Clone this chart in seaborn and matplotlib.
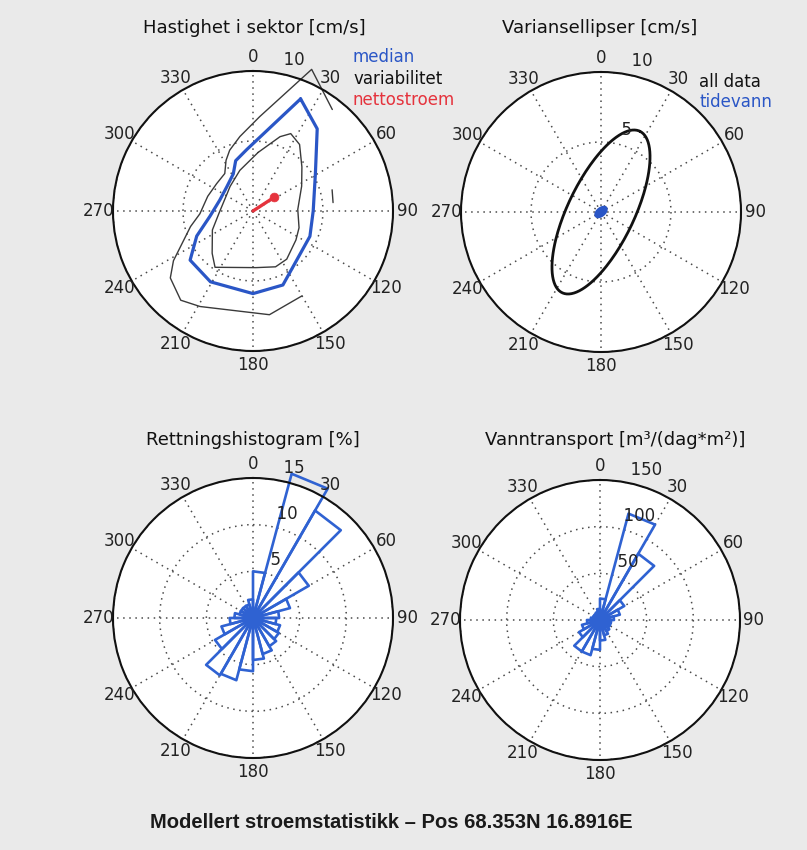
import numpy as np
import pandas as pd
import matplotlib
matplotlib.use("Agg")
import matplotlib.pyplot as plt
import seaborn as sns

# ---------------- data ----------------
angle_labels = [0, 30, 60, 90, 120, 150, 180, 210, 240, 270, 300, 330]

# Hastighet i sektor [cm/s]
median_dir = [23, 38, 59, 90, 114, 158, 180, 211, 232, 246, 263, 288, 313, 332, 341, 354]
median_speed = [8.7, 7.45, 5.2, 4.3, 4.45, 5.7, 5.9, 5.9, 5.7, 4.4, 3.1, 2.5, 2.55, 3.0, 3.8, 4.4]

var_inner_dir = [5, 20, 26, 35, 48, 63, 88, 110, 124, 145, 158, 177, 214, 224, 245, 268, 300, 317, 342]
var_inner_speed = [4.2, 5.65, 6.15, 5.8, 4.7, 3.9, 3.2, 3.5, 3.7, 4.2, 4.3, 4.05, 4.85, 4.2, 3.2, 2.4, 2.2, 2.4, 3.05]

var_outer_dir = [150, 171, 209, 219, 231, 238, 246, 256, 267, 288, 307, 323, 332, 339, 350, 4, 22.5, 38]
var_outer_speed = [7.0, 7.5, 7.8, 8.2, 7.6, 6.7, 5.5, 4.6, 3.8, 3.4, 3.25, 3.35, 4.1, 4.65, 5.4, 6.75, 10.95, 9.2]
var_outer_piece_dir = [75, 84]
var_outer_piece_speed = [5.85, 5.75]

netto_dir = 57
netto_speed = 1.8

# Variansellipser [cm/s]  (semi-major, semi-minor, direction of major axis)
ell_all = (6.4, 2.37, 25.7)
ell_tide = (0.45, 0.25, 50.0)

# Rettningshistogram [%] and Vanntransport, 24 sectors of 15 degrees
sector_start = list(range(0, 360, 15))
hist_pct = [5.0, 16.0, 13.3, 6.9, 4.1, 2.8, 2.5, 3.0, 3.2, 3.5, 4.0, 4.5,
            5.7, 6.9, 7.1, 4.7, 3.5, 2.5, 2.0, 1.5, 1.5, 1.5, 1.5, 2.0]
transport = [23, 118, 82, 30, 22, 15, 12, 12, 12, 14, 17, 22,
             32, 39, 39, 26, 20, 14, 10, 8, 8, 8, 9, 12]

titles = ["Hastighet i sektor [cm/s]", "Variansellipser [cm/s]",
          "Rettningshistogram [%]", "Vanntransport [m\u00b3/(dag*m\u00b2)]"]
suptitle = "Modellert stroemstatistikk \u2013 Pos 68.353N 16.8916E"

# ---------------- style ----------------
sns.set_style("white")
plt.rcParams["font.family"] = ["DejaVu Sans"]

BG = "#eaeaea"
BLUE = "#2a56c6"
HBLUE = "#2f62d2"
RED = "#e5333d"
FS = 12
FT = 13
TXT = "#222222"
W, H = 807, 850

fig = plt.figure(figsize=(W / 100, H / 100), dpi=100)
fig.patch.set_facecolor(BG)


def make_ax(cx, cy, R=140):
    return fig.add_axes([(cx - R) / W, 1 - (cy + R) / H, 2 * R / W, 2 * R / H],
                        projection="polar")


def setup(ax, rmax, rings, labels):
    ax.set_theta_zero_location("N")
    ax.set_theta_direction(-1)
    ax.set_facecolor("white")
    ax.set_xticks(np.deg2rad(np.arange(0, 360, 30)))
    ax.set_xticklabels([])
    ax.set_yticks(rings)
    ax.set_yticklabels([])
    ax.tick_params(length=0, pad=0)
    ax.grid(True, color="#4a4a4a", linestyle=(0, (1, 3)), linewidth=1.1)
    ax.spines["polar"].set_linewidth(1.5)
    ax.spines["polar"].set_color("#111111")
    for a in angle_labels:
        ax.text(np.deg2rad(a), 1.1 * rmax, str(a), ha="center", va="center",
                fontsize=FS, color=TXT, clip_on=False)
    rinc = rings[0]
    for lab in labels:
        ax.text(np.deg2rad(8), lab + rinc / 20, "  " + str(lab), ha="left",
                va="bottom", fontsize=FS, color=TXT, clip_on=False)


def polar_df(dirs, vals, unit=0):
    return pd.DataFrame({"theta": np.deg2rad(np.asarray(dirs, float)),
                         "r": np.asarray(vals, float), "u": unit})


def sline(ax, df, rmax, clip=True, **kw):
    n0 = len(ax.lines)
    sns.lineplot(data=df, x="theta", y="r", units="u", estimator=None, sort=False,
                 ax=ax, legend=False, **kw)
    for ln in ax.lines[n0:]:
        ln.set_clip_on(clip)
    ax.set_ylim(0, rmax)
    ax.set_xlabel("")
    ax.set_ylabel("")


def closed(d, v):
    return list(d) + [d[0]], list(v) + [v[0]]


def ellipse_df(a, b, phi, unit=0):
    t = np.linspace(0, 2 * np.pi, 200)
    p = np.deg2rad(phi)
    u = a * np.cos(t)
    w = b * np.sin(t)
    east = u * np.sin(p) + w * np.cos(p)
    north = u * np.cos(p) - w * np.sin(p)
    th = np.rad2deg(np.arctan2(east, north))
    rr = np.hypot(east, north)
    return polar_df(th, rr, unit)


def rose_df(starts, vals, width=15):
    frames = []
    for i, (s, v) in enumerate(zip(starts, vals)):
        frames.append(polar_df([s, s, s + width, s + width], [0, v, v, 0], i))
    return pd.concat(frames, ignore_index=True)


# ---- panel 1: Hastighet i sektor ----
ax1 = make_ax(253, 211)
setup(ax1, 10, [5, 10], [10])
d, v = closed(var_inner_dir, var_inner_speed)
sline(ax1, polar_df(d, v), 10, color="#3a3a3a", linewidth=1.0)
outer = pd.concat([polar_df(var_outer_dir, var_outer_speed, 0),
                   polar_df(var_outer_piece_dir, var_outer_piece_speed, 1)],
                  ignore_index=True)
sline(ax1, outer, 10, clip=False, color="#3a3a3a", linewidth=1.0)
d, v = closed(median_dir, median_speed)
sline(ax1, polar_df(d, v), 10, color=BLUE, linewidth=2.3)
sline(ax1, polar_df([0, netto_dir], [0, netto_speed]), 10, color=RED, linewidth=2.4)
sns.scatterplot(x=[np.deg2rad(netto_dir)], y=[netto_speed], ax=ax1, color=RED,
                s=40, edgecolor=RED, legend=False, zorder=5)
ax1.set_ylim(0, 10)
ax1.set_xlabel("")
ax1.set_ylabel("")

# ---- panel 2: Variansellipser ----
ax2 = make_ax(601, 212)
setup(ax2, 10, [5, 10], [5, 10])
sline(ax2, ellipse_df(*ell_all), 10, color="#111111", linewidth=2.0)
tide = ellipse_df(*ell_tide)
ax2.fill(tide["theta"], tide["r"], color=BLUE, zorder=4)
sline(ax2, tide, 10, color=BLUE, linewidth=2.0)

# ---- panel 3: Rettningshistogram ----
ax3 = make_ax(253, 618)
setup(ax3, 15, [5, 10, 15], [5, 10, 15])
sline(ax3, rose_df(sector_start, hist_pct), 15, clip=False, color=HBLUE, linewidth=1.9)

# ---- panel 4: Vanntransport ----
ax4 = make_ax(600, 620)
setup(ax4, 150, [50, 100, 150], [50, 100, 150])
sline(ax4, rose_df(sector_start, transport), 150, clip=False, color=HBLUE, linewidth=1.9)

# ---- texts ----
def ftext(x, y, s, **kw):
    fig.text(x / W, 1 - y / H, s, **kw)

ftext(254, 28, titles[0], ha="center", va="center", fontsize=FT, color="#111111")
ftext(600, 28, titles[1], ha="center", va="center", fontsize=FT, color="#111111")
ftext(253, 440, titles[2], ha="center", va="center", fontsize=FT, color="#111111")
ftext(615, 440, titles[3], ha="center", va="center", fontsize=FT, color="#111111")

ftext(353, 57, "median", ha="left", va="center", fontsize=FS, color=BLUE)
ftext(353, 79, "variabilitet", ha="left", va="center", fontsize=FS, color="#111111")
ftext(353, 100, "nettostroem", ha="left", va="center", fontsize=FS, color=RED)
ftext(699, 82, "all data", ha="left", va="center", fontsize=FS, color="#111111")
ftext(699, 102, "tidevann", ha="left", va="center", fontsize=FS, color=BLUE)

ftext(391, 822, suptitle, ha="center", va="center", fontsize=14.5,
      fontweight="bold", color="#1a1a1a", family=["Liberation Sans", "DejaVu Sans"])

fig.savefig("out.png", dpi=100, facecolor=BG)
